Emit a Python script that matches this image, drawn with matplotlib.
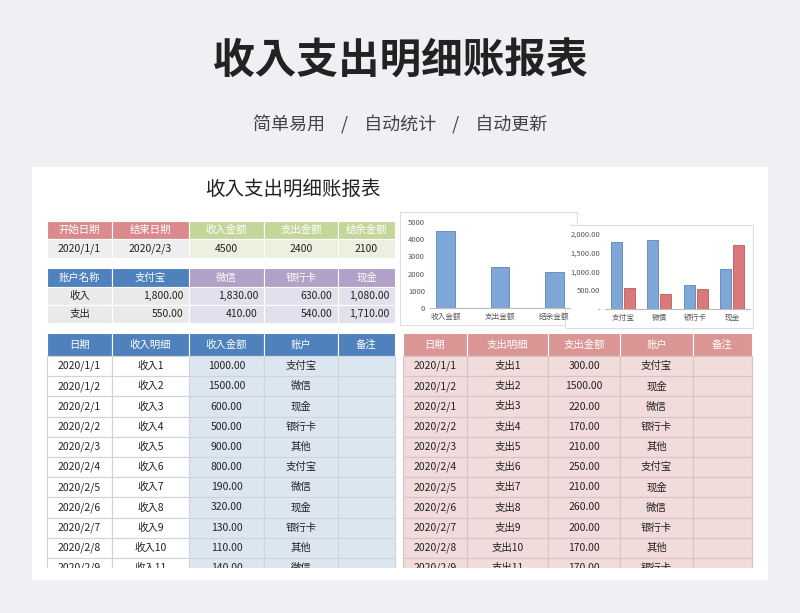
import matplotlib.pyplot as plt
import numpy as np
from matplotlib import font_manager
from matplotlib.patches import Rectangle

# pick an installed CJK font
cjk = [f.name for f in font_manager.fontManager.ttflist if "CJK" in f.name]
pref = [n for n in cjk if n.endswith("SC")] or cjk
plt.rcParams["font.family"] = "sans-serif"
plt.rcParams["font.sans-serif"] = pref[:1] + ["Noto Sans CJK SC", "DejaVu Sans"]

W, H = 800, 613

summary_head = ["开始日期", "结束日期", "收入金额", "支出金额", "结余金额"]
summary_vals = ["2020/1/1", "2020/2/3", "4500", "2400", "2100"]
acct_names = ["支付宝", "微信", "银行卡", "现金"]
acct_income = [1800, 1830, 630, 1080]
acct_expense = [550, 410, 540, 1710]
totals_labels = ["收入金额", "支出金额", "结余金额"]
totals = [4500, 2400, 2100]

dates = ["2020/1/1", "2020/1/2", "2020/2/1", "2020/2/2", "2020/2/3", "2020/2/4",
         "2020/2/5", "2020/2/6", "2020/2/7", "2020/2/8", "2020/2/9"]
income_amt = [1000, 1500, 600, 500, 900, 800, 190, 320, 130, 110, 140]
income_acct = ["支付宝", "微信", "现金", "银行卡", "其他", "支付宝", "微信", "现金", "银行卡", "其他", "微信"]
expense_amt = [300, 1500, 220, 170, 210, 250, 210, 260, 200, 170, 170]
expense_acct = ["支付宝", "现金", "微信", "银行卡", "其他", "支付宝", "现金", "微信", "银行卡", "其他", "银行卡"]

BLUE, PURPLE, RED, GREEN = "#4f81bd", "#b1a0c7", "#da8a8c", "#c4d79b"

fig = plt.figure(figsize=(8, 6.13), dpi=100)
fig.patch.set_facecolor("#eef0f3")
ax = fig.add_axes([0, 0, 1, 1])
ax.set_xlim(0, W)
ax.set_ylim(H, 0)
ax.axis("off")

ax.text(400, 62, "收入支出明细账报表", ha="center", va="center", fontsize=30, fontweight="bold", color="#222222")
ax.text(400, 125, "简单易用    /    自动统计    /    自动更新", ha="center", va="center", fontsize=13, color="#444444")

# white sheet
ax.add_patch(Rectangle((32, 167), 736, 413, facecolor="white", edgecolor="none"))
ax.text(293, 189, "收入支出明细账报表", ha="center", va="center", fontsize=14, color="#222222")


def cell(x0, y0, x1, y1, fc, txt, color="#222222", ha="center", fs=7.5, ec="#cfd4dc"):
    ax.add_patch(Rectangle((x0, y0), x1 - x0, y1 - y0, facecolor=fc, edgecolor=ec, linewidth=0.8))
    if txt:
        x = (x0 + x1) / 2 if ha == "center" else x1 - 6
        ax.text(x, (y0 + y1) / 2, txt, ha=ha, va="center", fontsize=fs, color=color)


cols = [47, 112, 189, 264, 338, 395]
for i in range(5):
    hc = RED if i < 2 else GREEN
    bc = "#eeeeee" if i < 2 else "#ebf1de"
    cell(cols[i], 221, cols[i + 1], 239, hc, summary_head[i], "white", ec="white")
    cell(cols[i], 239, cols[i + 1], 258, bc, summary_vals[i], ec="white")

heads = ["账户名称"] + acct_names
for i in range(5):
    hc = BLUE if i < 2 else PURPLE
    bc = "#eaeaea" if i < 2 else "#e4dfec"
    cell(cols[i], 268, cols[i + 1], 287, hc, heads[i], "white", ec="white")
    if i == 0:
        cell(cols[i], 287, cols[i + 1], 305, bc, "收入", ec="white")
        cell(cols[i], 305, cols[i + 1], 323, bc, "支出", ec="white")
    else:
        cell(cols[i], 287, cols[i + 1], 305, bc, f"{acct_income[i-1]:,.2f}", ha="right", ec="white")
        cell(cols[i], 305, cols[i + 1], 323, bc, f"{acct_expense[i-1]:,.2f}", ha="right", ec="white")

rh = 20.2
top = 356
lh = ["日期", "收入明细", "收入金额", "账户", "备注"]
rcols = [403, 467, 548, 620, 693, 752]
rhd = ["日期", "支出明细", "支出金额", "账户", "备注"]
for i in range(5):
    cell(cols[i], 333, cols[i + 1], top, BLUE, lh[i], "white", ec="white")
    cell(rcols[i], 333, rcols[i + 1], top, "#da9694", rhd[i], "white", ec="white")

n_p, n_t = len(ax.patches), len(ax.texts)
for r in range(len(dates)):
    y0 = top + r * rh
    y1 = y0 + rh
    lv = [dates[r], f"收入{r+1}", f"{income_amt[r]:.2f}", income_acct[r], ""]
    rv = [dates[r], f"支出{r+1}", f"{expense_amt[r]:.2f}", expense_acct[r], ""]
    for i in range(5):
        fc = "white" if i < 2 else "#dce6f1"
        cell(cols[i], y0, cols[i + 1], y1, fc, lv[i])
        cell(rcols[i], y0, rcols[i + 1], y1, "#f2dcdb", rv[i], ec="#d8c4c4")
clip = Rectangle((0, 0), W, 568, transform=ax.transData)
for p in ax.patches[n_p:]:
    p.set_clip_path(clip)
for t in ax.texts[n_t:]:
    t.set_clip_on(True)
    t.set_clip_path(clip)
ax.add_patch(Rectangle((32, 568), 736, 12, facecolor="white", edgecolor="none"))

# chart 1
ax.add_patch(Rectangle((400, 212), 177, 113, facecolor="white", edgecolor="#dddddd", linewidth=0.8))
a1 = fig.add_axes([430 / W, 1 - 308 / H, 140 / W, 86 / H])
a1.bar(totals_labels, totals, width=0.35, color="#7ea6d6", edgecolor="#5b85bb", linewidth=0.6)
a1.set_ylim(0, 5000)
a1.set_yticks(range(0, 5001, 1000))
for s in ["top", "right", "left"]:
    a1.spines[s].set_visible(False)
a1.spines["bottom"].set_color("#bbbbbb")
a1.tick_params(length=0, labelsize=5.5, colors="#555555")

# chart 2
ax.add_patch(Rectangle((565, 225), 188, 103, facecolor="white", edgecolor="#dddddd", linewidth=0.8))
a2 = fig.add_axes([605 / W, 1 - 309 / H, 145 / W, 75 / H])
x = np.arange(len(acct_names))
a2.bar(x - 0.18, acct_income, width=0.3, color="#7ea6d6", edgecolor="#5b85bb", linewidth=0.6)
a2.bar(x + 0.18, acct_expense, width=0.3, color="#d9797b", edgecolor="#c05a5c", linewidth=0.6)
a2.set_xticks(x, acct_names)
a2.set_xlim(-0.5, 3.5)
a2.set_ylim(0, 2000)
a2.set_yticks([0, 500, 1000, 1500, 2000], ["-", "500.00", "1,000.00", "1,500.00", "2,000.00"])
for s in ["top", "right", "left"]:
    a2.spines[s].set_visible(False)
a2.spines["bottom"].set_color("#bbbbbb")
a2.tick_params(length=0, labelsize=5.5, colors="#555555")

fig.savefig("out.png", dpi=100, facecolor=fig.get_facecolor())
